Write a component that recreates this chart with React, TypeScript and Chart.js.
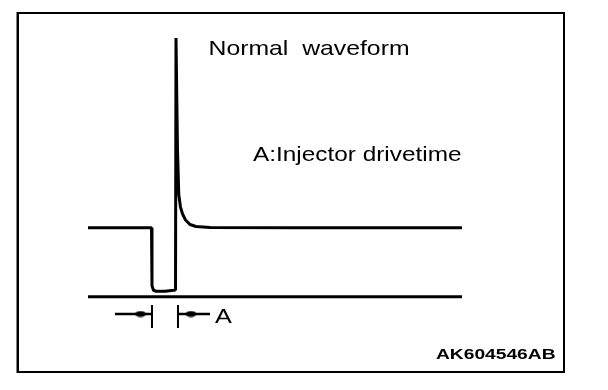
import React, { useEffect, useRef } from 'react';
import { Chart, registerables } from 'chart.js';

Chart.register(...registerables);

// Waveform (time in arbitrary ms units, voltage in V)
const waveTime = [0, 1.698, 1.711, 1.751, 1.818, 2.059, 2.299, 2.34, 2.353, 2.366, 2.393, 2.428, 2.473, 2.527, 2.607, 2.727, 2.888, 3.262, 5.67, 10];
const waveVolt = [12, 12, 1.9, 1.13, 0.96, 0.96, 1.13, 1.2, 45, 45, 25.5, 17.7, 15.6, 14.4, 13.35, 12.57, 12.22, 12.05, 12.0, 12.0];

// Ground reference line
const baseTime = [0, 10];
const baseVolt = [0, 0];

// Drive-time marker "A"
const markerVolt = -3;
const leftArrowTime = [0.72, 1.711];
const rightArrowTime = [2.406, 3.262];
const tickTimes = [1.711, 2.406];
const tickVolts = [-1.43, -5.43];
const dotTimes = [1.404, 2.754];

// Texts
const titleText = 'Normal  waveform';
const noteText = 'A:Injector drivetime';
const markerLabel = 'A';
const codeText = 'AK604546AB';

// Axis ranges
const xRange = [0, 10];
const yRange = [-6, 45];

const FONT = '"Liberation Sans", Arial, sans-serif';

function makeDot(): HTMLCanvasElement {
  const c = document.createElement('canvas');
  c.width = 12;
  c.height = 7;
  const g = c.getContext('2d')!;
  g.fillStyle = '#000';
  g.beginPath();
  g.ellipse(6, 3.5, 5.5, 3, 0, 0, Math.PI * 2);
  g.fill();
  return c;
}

function drawScaled(ctx: CanvasRenderingContext2D, text: string, x: number, y: number, sx: number) {
  ctx.save();
  ctx.translate(x, y);
  ctx.scale(sx, 1);
  ctx.fillText(text, 0, 0);
  ctx.restore();
}

const framePlugin = {
  id: 'frameAndTexts',
  afterDraw(chart: any) {
    const ctx = chart.ctx as CanvasRenderingContext2D;
    ctx.save();
    ctx.fillStyle = '#000';
    // frame
    ctx.fillRect(17, 12, 548, 2);
    ctx.fillRect(16.5, 12, 2.5, 361);
    ctx.fillRect(563, 12, 2, 361);
    ctx.fillRect(17, 371, 548, 2);

    ctx.textBaseline = 'alphabetic';
    ctx.textAlign = 'left';
    ctx.font = `21px ${FONT}`;
    drawScaled(ctx, titleText, 208.5, 55, 1.18);
    drawScaled(ctx, noteText, 253, 161, 1.16);
    drawScaled(ctx, markerLabel, 215, 323, 1.2);
    ctx.font = `bold 15px ${FONT}`;
    drawScaled(ctx, codeText, 436, 359, 1.28);
    ctx.restore();
  },
};

export default function App() {
  const ref = useRef<HTMLCanvasElement>(null);

  useEffect(() => {
    if (!ref.current) return;
    const dot = makeDot();
    const line = (xs: number[], ys: number[], w: number) => ({
      data: xs.map((x, i) => ({ x, y: ys[i] })),
      showLine: true,
      borderColor: '#000',
      backgroundColor: '#000',
      borderWidth: w,
      pointRadius: 0,
      tension: 0,
      borderJoinStyle: 'bevel',
      borderCapStyle: 'butt',
      clip: false,
    });
    const chart = new Chart(ref.current, {
      type: 'scatter',
      data: {
        datasets: [
          line(waveTime, waveVolt, 3) as any,
          line(baseTime, baseVolt, 3) as any,
          line(leftArrowTime, [markerVolt, markerVolt], 2.5) as any,
          line(rightArrowTime, [markerVolt, markerVolt], 2.5) as any,
          line([tickTimes[0], tickTimes[0]], tickVolts, 2) as any,
          line([tickTimes[1], tickTimes[1]], tickVolts, 2) as any,
          {
            data: dotTimes.map((x) => ({ x, y: markerVolt })),
            showLine: false,
            pointStyle: dot,
            pointRadius: 5,
            clip: false,
          } as any,
        ],
      },
      options: {
        responsive: true,
        maintainAspectRatio: false,
        animation: false,
        events: [],
        layout: { padding: { left: 88, right: 146, top: 38, bottom: 58.75 } },
        plugins: { legend: { display: false }, tooltip: { enabled: false }, title: { display: false } },
        scales: {
          x: { type: 'linear', min: xRange[0], max: xRange[1], display: false },
          y: { type: 'linear', min: yRange[0], max: yRange[1], display: false },
        },
      },
      plugins: [framePlugin],
    });
    return () => chart.destroy();
  }, []);

  return (
    <div style={{ position: 'absolute', left: 0, top: 0, width: 608, height: 390, background: '#fff' }}>
      <canvas ref={ref} />
    </div>
  );
}
